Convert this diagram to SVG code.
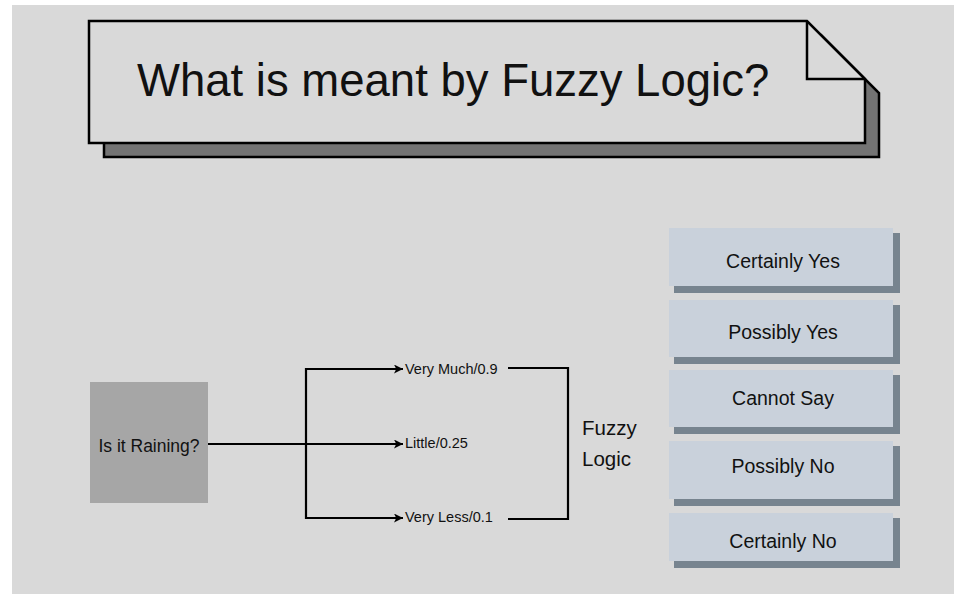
<svg xmlns="http://www.w3.org/2000/svg" width="954" height="594" viewBox="0 0 954 594">
<style>
text{font-family:"Liberation Sans",Arial,sans-serif;fill:#111}
.conn{fill:none;stroke:#000;stroke-width:2.2}
.opt{fill:#c9d1db}
.optsh{fill:#77848f}
.opt-t{font-size:19.5px;text-anchor:middle}
.lbl{font-size:14.5px}
</style>
<defs>
<marker id="arr" viewBox="0 0 10 10" refX="10" refY="5" markerWidth="9" markerHeight="9" markerUnits="userSpaceOnUse" orient="auto">
<path d="M0,0 L10,5 L0,10 L2.5,5 z" fill="#000"/>
</marker>
</defs>
<rect x="0" y="0" width="954" height="594" fill="#ffffff"/>
<rect x="12" y="5" width="942" height="589" fill="#d9d9d9"/>

<g id="title">
<path d="M104,35 H821 L879,93 V157 H104 Z" fill="#737373" stroke="#000" stroke-width="2.5"/>
<path d="M89,21 H807 L865,79 V143 H89 Z" fill="#d9d9d9" stroke="#000" stroke-width="2.5"/>
<path d="M807,21 V79 H865" fill="none" stroke="#000" stroke-width="2.5"/>
<text x="137" y="96" font-size="45.5">What is meant by Fuzzy Logic?</text>
</g>

<g id="raining">
<rect x="90" y="382" width="118" height="121" fill="#a6a6a6"/>
<text x="149" y="452" font-size="17.5" text-anchor="middle">Is it Raining?</text>
</g>

<g id="connectors">
<path class="conn" d="M208,444 H403" marker-end="url(#arr)"/>
<path class="conn" d="M306,444 V369 H403" marker-end="url(#arr)"/>
<path class="conn" d="M306,444 V518 H403" marker-end="url(#arr)"/>
<path class="conn" d="M508,368 H568 V519 H508" stroke-width="2.5"/>
</g>

<g id="label-verymuch"><text class="lbl" x="405" y="374">Very Much/0.9</text></g>
<g id="label-little"><text class="lbl" x="405" y="448">Little/0.25</text></g>
<g id="label-veryless"><text class="lbl" x="405" y="522">Very Less/0.1</text></g>

<g id="fuzzy-logic">
<text x="582" y="435" font-size="20.5">Fuzzy</text>
<text x="582" y="466" font-size="20.5">Logic</text>
</g>

<g id="certainly-yes">
<rect class="optsh" x="674" y="233" width="226" height="60"/>
<rect class="opt" x="669" y="228" width="224" height="58"/>
<text class="opt-t" x="783" y="268">Certainly Yes</text>
</g>
<g id="possibly-yes">
<rect class="optsh" x="674" y="305" width="226" height="59"/>
<rect class="opt" x="669" y="300" width="224" height="57"/>
<text class="opt-t" x="783" y="339">Possibly Yes</text>
</g>
<g id="cannot-say">
<rect class="optsh" x="674" y="375" width="226" height="59"/>
<rect class="opt" x="669" y="370" width="224" height="57"/>
<text class="opt-t" x="783" y="405">Cannot Say</text>
</g>
<g id="possibly-no">
<rect class="optsh" x="674" y="446" width="226" height="60"/>
<rect class="opt" x="669" y="441" width="224" height="58"/>
<text class="opt-t" x="783" y="473">Possibly No</text>
</g>
<g id="certainly-no">
<rect class="optsh" x="674" y="518" width="226" height="50"/>
<rect class="opt" x="669" y="513" width="224" height="48"/>
<text class="opt-t" x="783" y="548">Certainly No</text>
</g>
</svg>
